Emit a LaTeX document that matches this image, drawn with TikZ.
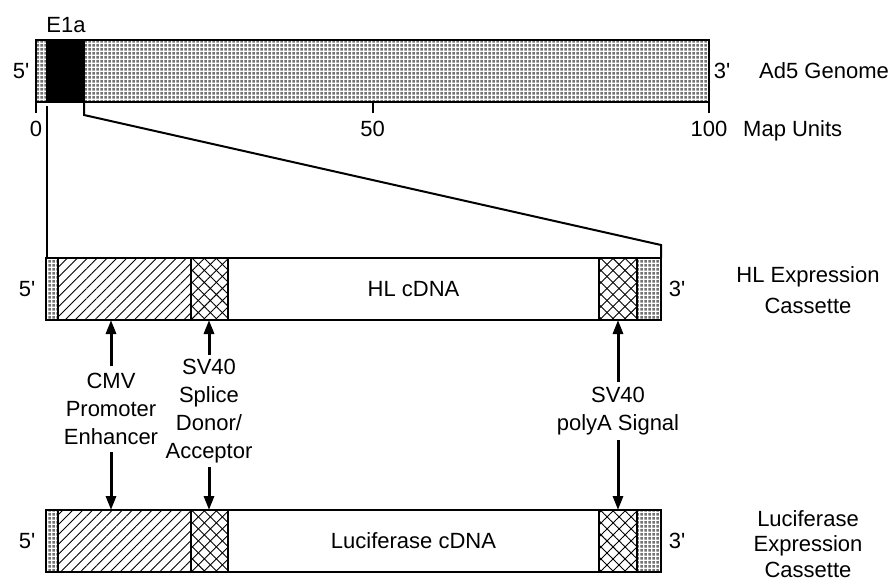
\documentclass[tikz,border=0pt]{standalone}
\usepackage{fontspec}
\setmainfont{Liberation Sans}
\usetikzlibrary{patterns.meta,arrows.meta,calc}
\pgfdeclarepattern{name=stipple, type=uncolored,
  bottom left={\pgfpoint{0pt}{0pt}}, top right={\pgfpoint{4pt}{4pt}},
  tile size={\pgfpoint{4pt}{4pt}},
  code={\pgfpathrectangle{\pgfpoint{0.5pt}{0.5pt}}{\pgfpoint{3pt}{3pt}}\pgfusepath{fill}}}
\newcommand{\pr}{\textquotesingle}
\begin{document}
\begin{tikzpicture}[x=1pt,y=-1pt,
  txt/.style={font=\fontsize{22}{28}\selectfont, inner sep=2pt},
  gseg/.style={draw, line width=2.2pt, inner sep=0pt, outer sep=0pt, anchor=north west, minimum height=62pt},
  seg/.style={draw, line width=2.6pt, inner sep=0pt, outer sep=0pt, anchor=north west, minimum height=62pt, txt},
  dots/.style={pattern=stipple, pattern color=black!55},
  hatch/.style={pattern={Lines[angle=45,distance=7pt,line width=0.9pt]}},
  cross/.style={pattern={Lines[angle=45,distance=8.5pt,line width=0.9pt]},
                postaction={pattern={Lines[angle=-45,distance=8.5pt,line width=0.9pt]}}},
  conn/.style={line width=2pt},
  tick/.style={line width=2pt},
  arr/.style={line width=3pt, -{Triangle[length=14pt,width=10pt]}},
  midlab/.style={txt, align=center}
]
\useasboundingbox (0,0) rectangle (893,583);
\fill[white] (0,0) rectangle (893,583);

% Ad5 genome bar
\node[gseg, dots, minimum width=11pt] (g1) at (36,40) {};
\node[gseg, fill=black, minimum width=37pt] (e1a) at (47,40) {};
\node[gseg, dots, minimum width=625pt] (g2) at (84,40) {};
\node[txt] (e1alab) at (66,25) {E1a};
\node[txt] (g5) at (21,71) {5\pr};
\node[txt] (g3) at (722,71) {3\pr};
\node[txt, anchor=base west] (ad5) at (757,79) {Ad5 Genome};

% map scale
\coordinate (m0) at (g1.south west);
\coordinate (m100) at (g2.south east);
\coordinate (m50) at ($(m0)!0.5!(m100)$);
\draw[tick] (m0) -- ++(0,11);
\draw[tick] (m50) -- ++(0,11);
\draw[tick] (m100) -- ++(0,11);
\node[txt, anchor=base] (n0) at ($(m0)+(0,34)$) {0};
\node[txt, anchor=base] (n50) at ($(m50)+(0,34)$) {50};
\node[txt, anchor=base] (n100) at ($(m100)+(0,34)$) {100};
\node[txt, anchor=base west] (mu) at (741,136) {Map Units};

% HL expression cassette
\node[seg, dots, minimum width=12pt] (h1) at (46,258) {};
\node[seg, hatch, minimum width=133pt] (hcmv) at (58,258) {};
\node[seg, cross, minimum width=37pt] (hsd) at (191,258) {};
\node[seg, minimum width=371pt] (hcdna) at (228,258) {HL cDNA};
\node[seg, cross, minimum width=38pt] (hpa) at (599,258) {};
\node[seg, dots, minimum width=24pt] (h2) at (637,258) {};
\node[txt] (h5) at (27,289) {5\pr};
\node[txt] (h3) at (677,289) {3\pr};
\node[txt, align=center, font=\fontsize{22}{31}\selectfont] (hllab) at (808,290) {HL Expression\\Cassette};

% Luciferase expression cassette
\node[seg, dots, minimum width=12pt] (l1) at (46,510) {};
\node[seg, hatch, minimum width=133pt] (lcmv) at (58,510) {};
\node[seg, cross, minimum width=37pt] (lsd) at (191,510) {};
\node[seg, minimum width=371pt] (lcdna) at (228,510) {Luciferase cDNA};
\node[seg, cross, minimum width=38pt] (lpa) at (599,510) {};
\node[seg, dots, minimum width=24pt] (l2) at (637,510) {};
\node[txt] (l5) at (27,541) {5\pr};
\node[txt] (l3) at (677,541) {3\pr};
\node[txt, align=center, font=\fontsize{22}{25.5}\selectfont] (luclab) at (808,544) {Luciferase\\Expression\\Cassette};

% expansion lines
\draw[conn] ([yshift=-4pt]e1a.south west) -- (e1a.south west |- h1.north);
\draw[conn] (e1a.south east) -- ++(0,13) -- ($(h2.north east)+(0,-13)$) -- (h2.north east);

% element labels and arrows
\node[midlab, inner ysep=7.5pt] (cmvlab) at (111,409) {CMV\\Promoter\\Enhancer};
\node[midlab, inner ysep=4pt] (sdlab) at (209,411) {SV40\\Splice\\Donor/\\Acceptor};
\node[midlab, inner ysep=5pt] (palab) at (618,411) {SV40\\polyA Signal};
\draw[arr] (cmvlab.north) -- (cmvlab.north |- hcmv.south);
\draw[arr] (cmvlab.south) -- (cmvlab.south |- lcmv.north);
\draw[arr] (sdlab.north) -- (sdlab.north |- hsd.south);
\draw[arr] (sdlab.south) -- (sdlab.south |- lsd.north);
\draw[arr] (palab.north) -- (palab.north |- hpa.south);
\draw[arr] (palab.south) -- (palab.south |- lpa.north);
\end{tikzpicture}
\end{document}
